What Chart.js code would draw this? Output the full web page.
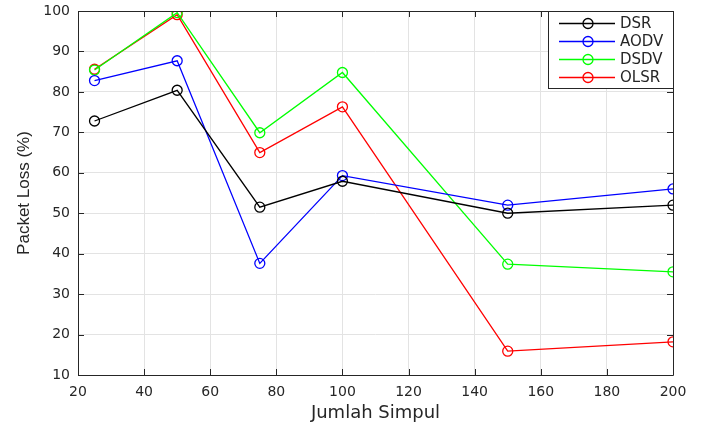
<!DOCTYPE html>
<html>
<head>
<meta charset="utf-8">
<script src="https://cdn.jsdelivr.net/npm/chart.js@4.4.1/dist/chart.umd.min.js"></script>
<style>
html,body{margin:0;padding:0;background:#fff;}
</style>
</head>
<body>
<canvas id="grafik" width="701" height="425"></canvas>
<script>

// jumlah simpul (x)
const simpul = [25, 50, 75, 100, 150, 200];

const dsr  = [72.8, 80.4, 51.5, 57.9, 50.0, 52.0];
const aodv = [82.8, 87.7, 37.6, 59.3, 52.0, 56.0];
const dsdv = [85.4, 99.6, 69.9, 84.8, 37.4, 35.5];
const olsr = [85.6, 99.1, 65.0, 76.3, 15.9, 18.2];

const xTicks = [20, 40, 60, 80, 100, 120, 140, 160, 180, 200];
const yTicks = [10, 20, 30, 40, 50, 60, 70, 80, 90, 100];

const teks = "#262626";
const fontName = "'DejaVu Sans', sans-serif";

function seri(label, nilai, warna){
  return {
    label: label,
    data: simpul.map((x,i)=>({x:x, y:nilai[i]})),
    borderColor: warna,
    backgroundColor: "rgba(0,0,0,0)",
    borderWidth: 1.3,
    pointStyle: "circle",
    pointRadius: 5,
    pointBorderWidth: 1.3,
    pointBackgroundColor: "rgba(0,0,0,0)",
    pointBorderColor: warna,
    tension: 0
  };
}

// kotak, tick ke dalam, legend gaya matlab
const kotakPlugin = {
  id: "kotak",
  afterDatasetsDraw(chart){
    const ctx = chart.ctx;
    const a = chart.chartArea;
    const sx = chart.scales.x, sy = chart.scales.y;
    ctx.save();
    ctx.strokeStyle = teks;
    ctx.lineWidth = 1;
    ctx.beginPath();
    ctx.rect(a.left+0.5, a.top+0.5, a.right-a.left, a.bottom-a.top);
    ctx.stroke();
    ctx.beginPath();
    xTicks.forEach(v=>{
      const px = Math.round(sx.getPixelForValue(v))+0.5;
      ctx.moveTo(px, a.bottom); ctx.lineTo(px, a.bottom-6);
      ctx.moveTo(px, a.top); ctx.lineTo(px, a.top+6);
    });
    yTicks.forEach(v=>{
      const py = Math.round(sy.getPixelForValue(v))+0.5;
      ctx.moveTo(a.left, py); ctx.lineTo(a.left+6, py);
      ctx.moveTo(a.right, py); ctx.lineTo(a.right-6, py);
    });
    ctx.stroke();

    // legend
    const lx = 548, ly = Math.round(a.top), lw = Math.round(a.right) - 548, lh = 77;
    ctx.fillStyle = "#fff";
    ctx.fillRect(lx, ly, lw, lh);
    ctx.strokeStyle = teks;
    ctx.strokeRect(lx+0.5, ly+0.5, lw, lh);
    ctx.font = "15px " + fontName;
    ctx.textBaseline = "middle";
    chart.data.datasets.forEach((ds,i)=>{
      const y = ly + 12.5 + i*18;
      ctx.strokeStyle = ds.borderColor;
      ctx.lineWidth = 1.3;
      ctx.beginPath();
      ctx.moveTo(lx+11, y); ctx.lineTo(lx+67, y);
      ctx.stroke();
      ctx.beginPath();
      ctx.arc(lx+40, y, 5, 0, Math.PI*2);
      ctx.stroke();
      ctx.fillStyle = teks;
      ctx.fillText(ds.label, lx+72, y+1);
    });
    ctx.restore();
  }
};

new Chart(
  document.getElementById("grafik"),
  {
    type: "line",
    data: {
      datasets: [
        seri("DSR", dsr, "#000000"),
        seri("AODV", aodv, "#0000ff"),
        seri("DSDV", dsdv, "#00ff00"),
        seri("OLSR", olsr, "#ff0000")
      ]
    },
    options: {
      responsive: false,
      animation: false,
      layout: { padding: { top: 11, right: 28, left: 0, bottom: 0 } },
      plugins: {
        legend: { display: false },
        tooltip: { enabled: false }
      },
      scales: {
        x: {
          type: "linear",
          min: 20, max: 200,
          afterBuildTicks(s){ s.ticks = xTicks.map(v=>({value:v})); },
          afterFit(s){ s.height = 50; s.paddingLeft = 0; s.paddingRight = 0; },
          grid: { color: "#e3e3e3", drawTicks: false },
          border: { display: false },
          ticks: { color: teks, font: { family: fontName, size: 14 }, padding: 9, maxRotation: 0 },
          title: { display: true, text: "Jumlah Simpul", color: teks, font: { family: fontName, size: 18 }, padding: { top: 0, bottom: 1 } }
        },
        y: {
          min: 10, max: 100,
          afterBuildTicks(s){ s.ticks = yTicks.map(v=>({value:v})); },
          afterFit(s){ s.width = 78; s.paddingTop = 0; s.paddingBottom = 0; },
          grid: { color: "#e3e3e3", drawTicks: false },
          border: { display: false },
          ticks: { color: teks, font: { family: fontName, size: 14 }, padding: 8 },
          title: { display: true, text: "Packet Loss (%)", color: teks, font: { family: "'Liberation Sans', Arial, sans-serif", size: 17 }, padding: { top: 14, bottom: 0 } }
        }
      }
    },
    plugins: [kotakPlugin]
  }
);

</script>
</body>
</html>
